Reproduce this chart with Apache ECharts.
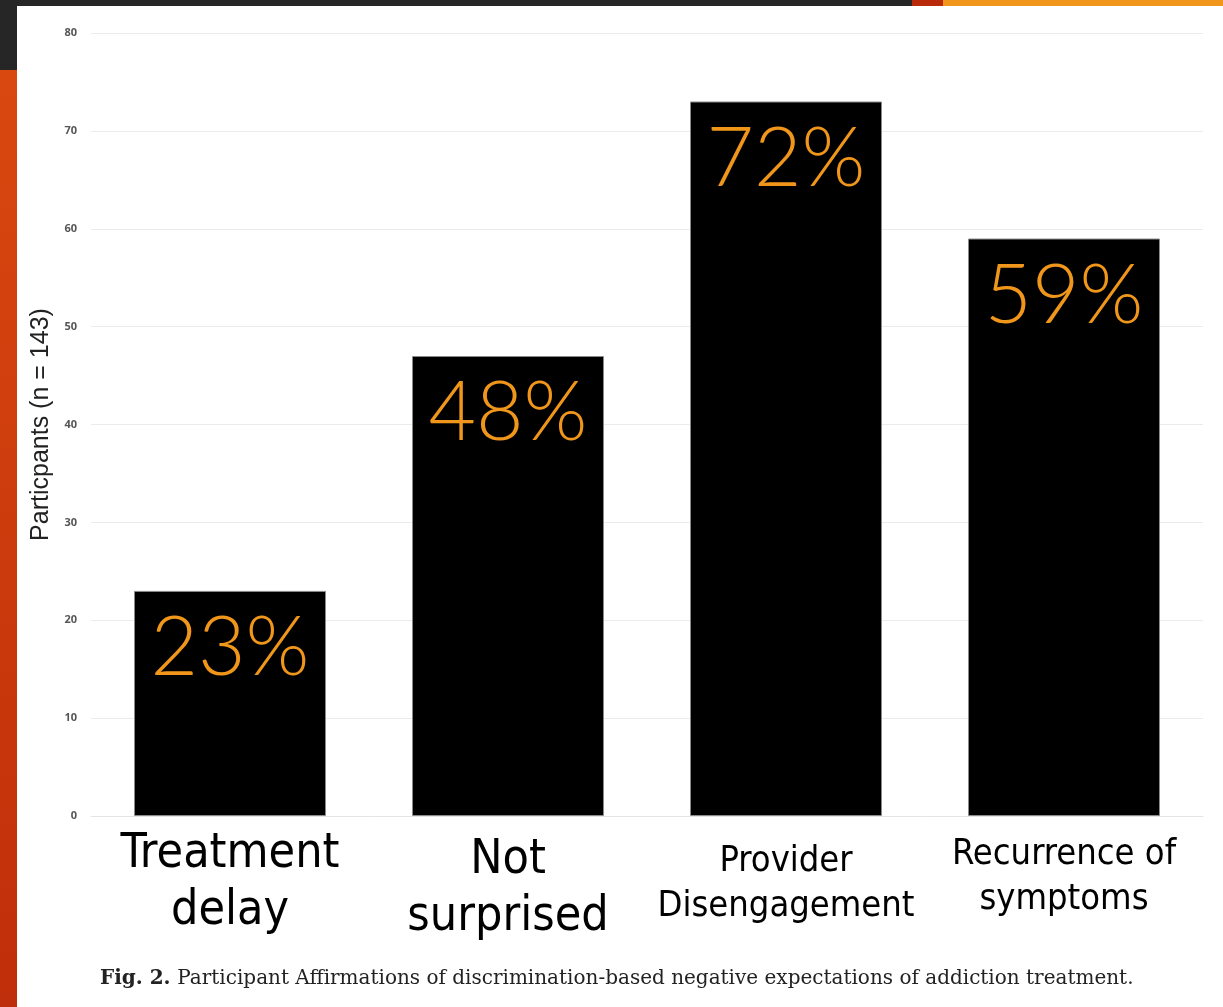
<!DOCTYPE html>
<html>
<head>
<meta charset="utf-8">
<script src="https://cdn.jsdelivr.net/npm/echarts@6/dist/echarts.min.js"></script>
<style>
html,body{margin:0;padding:0;background:#fff;}
#c{width:1223px;height:1007px;}
</style>
</head>
<body>
<div id="c"></div>
<script>
var categories = ['Treatment\ndelay', 'Not\nsurprised', 'Provider\nDisengagement', 'Recurrence of\nsymptoms'];
var participants = [23, 47, 73, 59];
var pctLabels = ['23%', '48%', '72%', '59%'];
var yTicks = [0, 10, 20, 30, 40, 50, 60, 70, 80];
var yAxisTitle = 'Particpants (n = 143)';
var caption = 'Participant Affirmations of discrimination-based negative expectations of addiction treatment.';
var captionLead = 'Fig. 2.';

// per-category label styling (style names only)
var labelStyleName = ['big', 'big', 'small', 'small'];
var labelGapName = ['g0', 'g6', 'g13', 'g6'];

var labelFont = '"DejaVu Sans Condensed", "DejaVu Sans", sans-serif';
var chart = echarts.init(document.getElementById('c'), null, {renderer: 'canvas'});
var option = {
  backgroundColor: '#ffffff',
  animation: false,
  grid: {left: 91, right: 20, top: 33, bottom: 191},
  xAxis: {
    type: 'category',
    data: categories,
    axisLine: {show: true, lineStyle: {color: '#e4e4e4', width: 1}},
    axisTick: {show: false},
    axisLabel: {
      interval: 0,
      margin: 10,
      formatter: function (v, i) {
        var lines = v.split('\n');
        var st = labelStyleName[i];
        var out = lines.map(function (l) { return '{' + st + '|' + l + '}'; }).join('\n');
        if (labelGapName[i] !== 'g0') out = '{' + labelGapName[i] + '| }\n' + out;
        return out;
      },
      rich: {
        big: {fontFamily: labelFont, fontSize: 48, lineHeight: 57, color: '#000'},
        small: {fontFamily: labelFont, fontSize: 36, lineHeight: 45, color: '#000'},
        g6: {fontSize: 1, lineHeight: 6},
        g13: {fontSize: 1, lineHeight: 13}
      }
    }
  },
  yAxis: {
    type: 'value',
    min: yTicks[0],
    max: yTicks[yTicks.length - 1],
    interval: 10,
    name: yAxisTitle,
    nameLocation: 'middle',
    nameGap: 34,
    nameTextStyle: {fontFamily: '"Liberation Sans", Arial, sans-serif', fontSize: 25, color: '#222'},
    axisLine: {show: false},
    axisTick: {show: false},
    axisLabel: {margin: 14, fontSize: 11, fontWeight: 'bold', color: '#555', fontFamily: '"Open Sans", sans-serif'},
    splitLine: {lineStyle: {color: '#ebebeb', width: 1}}
  },
  series: [{
    type: 'bar',
    data: participants,
    barWidth: 192,
    itemStyle: {color: '#000', borderColor: '#8a8a8a', borderWidth: 1},
    label: {
      show: true,
      position: 'insideTop',
      distance: 17,
      formatter: function (p) { return pctLabels[p.dataIndex]; },
      fontFamily: 'Lato, "Open Sans", sans-serif',
      fontWeight: 300,
      fontSize: 82,
      color: '#f0961a'
    }
  }],
  graphic: [
    {type: 'rect', z: -10, shape: {x: 0, y: 0, width: 1223, height: 6}, style: {fill: '#262626'}},
    {type: 'rect', z: -10, shape: {x: 0, y: 0, width: 17, height: 70}, style: {fill: '#262626'}},
    {type: 'rect', z: -10, shape: {x: 0, y: 70, width: 17, height: 937},
      style: {fill: new echarts.graphic.LinearGradient(0, 0, 0, 1, [{offset: 0, color: '#d9480f'}, {offset: 1, color: '#bf2e0a'}])}},
    {type: 'rect', z: -10, shape: {x: 912, y: 0, width: 31, height: 6}, style: {fill: '#b92a0b'}},
    {type: 'rect', z: -10, shape: {x: 943, y: 0, width: 280, height: 6}, style: {fill: '#f0961a'}},
    {type: 'text', left: 100, top: 969,
      style: {
        text: '{b|' + captionLead + '}  {r|' + caption + '}',
        rich: {
          b: {fontFamily: '"DejaVu Serif", serif', fontWeight: 'bold', fontSize: 20, fill: '#222'},
          r: {fontFamily: '"DejaVu Serif", serif', fontSize: 20, fill: '#222'}
        }
      }}
  ]
};
chart.setOption(option);
</script>
</body>
</html>
